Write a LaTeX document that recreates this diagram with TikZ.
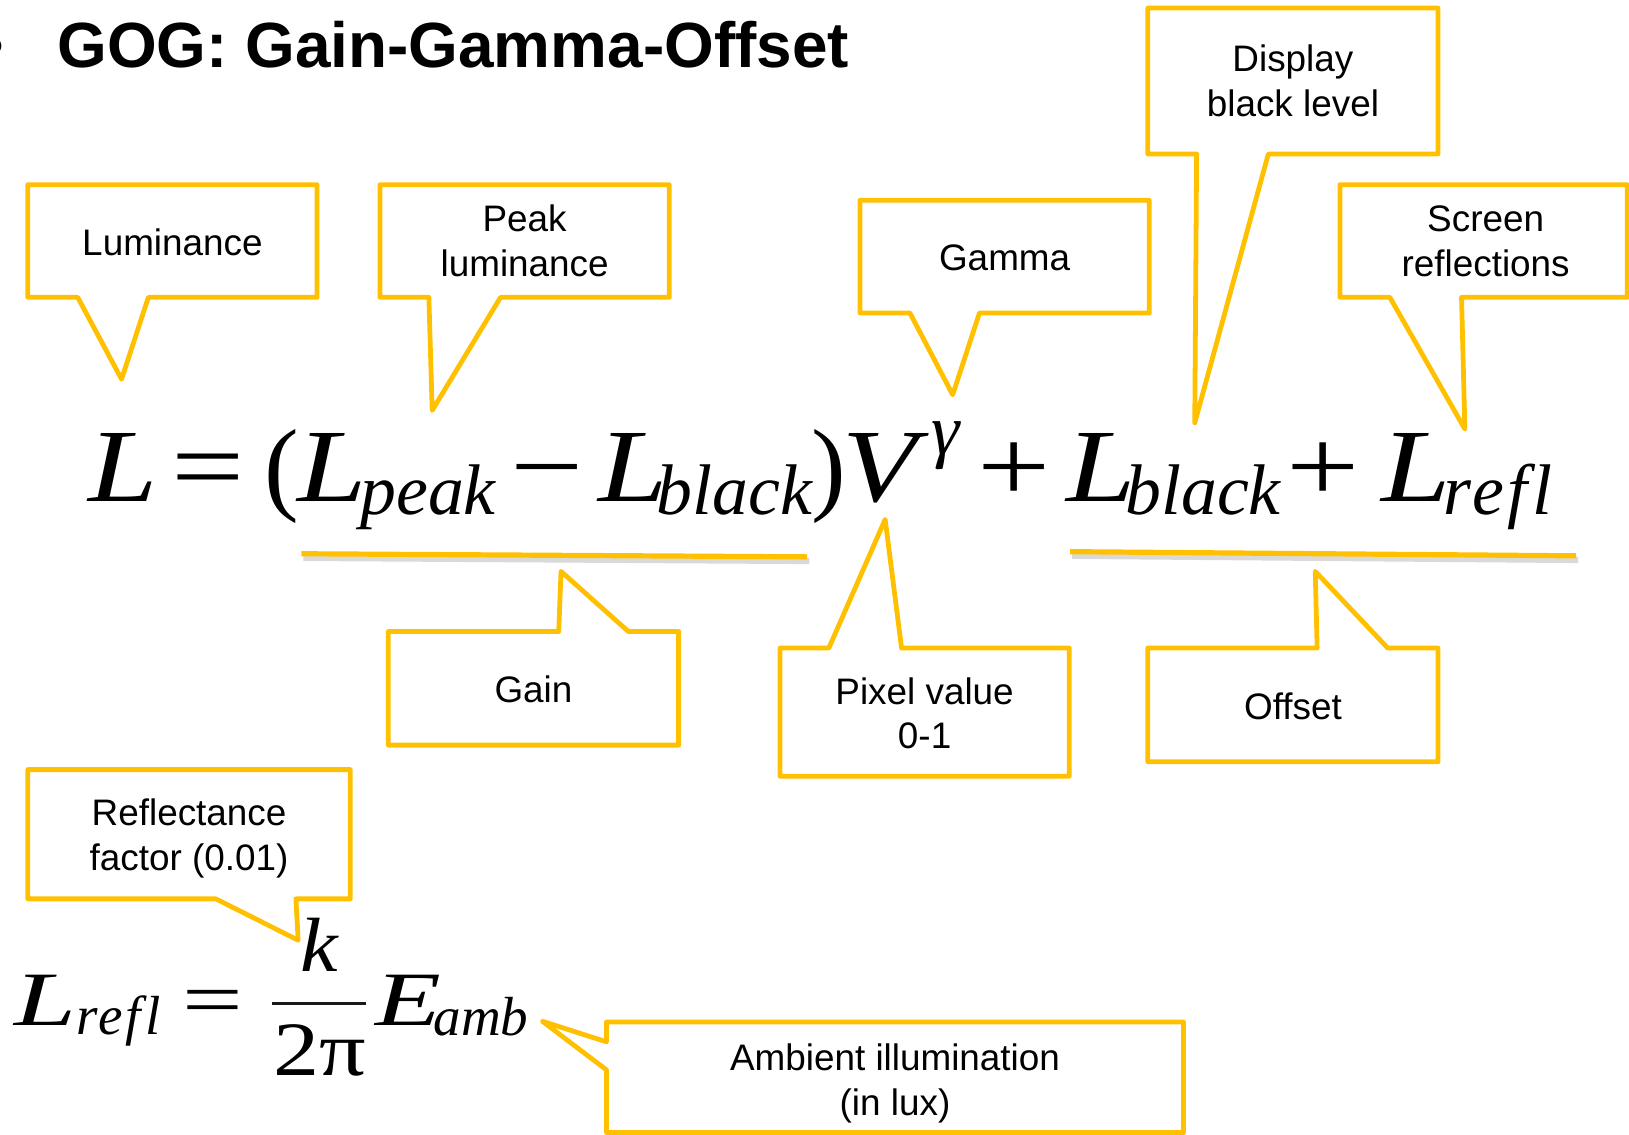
\documentclass[tikz,border=0pt]{standalone}
\usepackage{graphicx}
\usepackage{fontspec}
\setmainfont{Liberation Sans}
\newfontfamily\serifm{Liberation Serif}
\usetikzlibrary{calc}
\definecolor{gold}{HTML}{FFC000}
\tikzset{
  co/.style={draw=gold, line width=4.6pt, line join=round},
  frame/.style={rectangle, inner sep=0pt},
  cbox/.style={inner sep=0pt, align=center, font=\fontsize{35.5}{43}\selectfont},
  ttl/.style={inner sep=0pt, font=\bfseries\fontsize{61.5}{70}\selectfont},
  fm/.style={inner sep=0pt, anchor=base, font=\serifm\itshape\fontsize{100}{100}\selectfont},
  fo/.style={inner sep=0pt, anchor=base, font=\serifm\fontsize{100}{100}\selectfont},
  fs/.style={inner sep=0pt, anchor=base, font=\serifm\itshape\fontsize{69}{69}\selectfont},
  fmb/.style={inner sep=0pt, anchor=base, font=\serifm\itshape\fontsize{74}{74}\selectfont},
  fob/.style={inner sep=0pt, anchor=base, font=\serifm\fontsize{74}{74}\selectfont},
  fsb/.style={inner sep=0pt, anchor=base, font=\serifm\itshape\fontsize{53}{53}\selectfont},
  uline/.style={draw=gold, line width=5pt},
  ushadow/.style={draw=black, opacity=0.15, line width=6pt},
}
\newcommand\wideop[1]{\scalebox{1.25}[1]{#1}}
\newcommand\wider[2]{\scalebox{#1}[1]{#2}}
\begin{document}
\begin{tikzpicture}[x=1pt,y=-1pt]
\useasboundingbox (0,0) rectangle (1568,1092);

% title
\node[ttl, anchor=base] (bul) at (-7,65) {•};
\node[ttl, anchor=base west] (title) at (55,65) {GOG: Gain-Gamma-Offset};

% main formula
\node[fm] (L1) at (119,483) {\wider{1.2}{L}};
\node[fo] (eq1) at (200,483) {\wideop{=}};
\node[fo] (lp) at (271,483) {(};
\node[fm] (L2) at (320,483) {\wider{1.2}{L}};
\node[fs] (s1) at (412,495) {peak};
\node[fo] (mi) at (527,483) {\wideop{−}};
\node[fm] (L3) at (609,483) {\wider{1.2}{L}};
\node[fs] (s2) at (707,495) {black};
\node[fo] (rp) at (798,483) {)};
\node[fm] (V) at (847,483) {\wider{1.18}{V}};
\node[fs] (g) at (910,437) {γ};
\node[fo] (p1) at (976,483) {\wideop{+}};
\node[fm] (L4) at (1060,483) {\wider{1.2}{L}};
\node[fs] (s3) at (1158,495) {black};
\node[fo] (p2) at (1274,483) {\wideop{+}};
\node[fm] (L5) at (1363,483) {\wider{1.2}{L}};
\node[fs] (s4) at (1442,495) {r\kern1pt e\kern3pt f\kern5pt l};

% underlines
\coordinate (ga1) at (290,533); \coordinate (ga2) at (777,536);
\coordinate (of1) at (1030,531); \coordinate (of2) at (1517,535);
\draw[ushadow] ($(ga1)+(2,4)$) -- ($(ga2)+(2,4)$);
\draw[uline] (ga1) -- (ga2);
\draw[ushadow] ($(of1)+(2,4)$) -- ($(of2)+(2,4)$);
\draw[uline] (of1) -- (of2);

% bottom formula
\node[fmb] (L6) at (44,987) {\wider{1.45}{L}};
\node[fsb] (s5) at (114,996) {r\kern1pt e\kern2pt f\kern4pt l};
\node[fob] (eq2) at (205,987) {\wider{1.4}{=}};
\node[fmb] (k) at (307,935) {\wider{1.1}{k}};
\coordinate (fb1) at (262,966); \coordinate (fb2) at (352,966);
\draw[line width=3pt, black!90] (fb1) -- (fb2);
\node[fob] (twopi) at (308,1035) {\wider{1.2}{2π}};
\node[fmb] (E) at (393,987) {\wider{1.4}{E}};
\node[fsb] (s6) at (463,997) {amb};

% callout frames
\node[frame, minimum width=278pt, minimum height=108pt] (lum) at (166,232) {};
\node[frame, minimum width=278pt, minimum height=108pt] (peak) at (505,232) {};
\node[frame, minimum width=278pt, minimum height=108pt] (gam) at (967,247) {};
\node[frame, minimum width=279pt, minimum height=140pt] (disp) at (1244.5,78) {};
\node[frame, minimum width=276pt, minimum height=108pt] (scr) at (1428,232) {};
\node[frame, minimum width=279pt, minimum height=109pt] (gain) at (513.5,662.5) {};
\node[frame, minimum width=278pt, minimum height=123pt] (pix) at (890,685.5) {};
\node[frame, minimum width=279pt, minimum height=109pt] (off) at (1244.5,678.5) {};
\node[frame, minimum width=310pt, minimum height=124pt] (refl) at (182,803) {};
\node[frame, minimum width=555pt, minimum height=106pt] (amb) at (861.5,1037) {};

% callout texts
\node[cbox] (lumt) at ($(lum)+(0,1)$) {Luminance};
\node[cbox] (peakt) at (peak) {Peak\\luminance};
\node[cbox] (gamt) at ($(gam)+(0,1)$) {Gamma};
\node[cbox] (dispt) at (disp) {Display\\black level};
\node[cbox] (scrt) at ($(scr)+(2,0)$) {Screen\\reflections};
\node[cbox] (gaint) at ($(gain)+(0,1)$) {Gain};
\node[cbox] (pixt) at ($(pix)+(0,1)$) {Pixel value\\0-1};
\node[cbox] (offt) at ($(off)+(0,1)$) {Offset};
\node[cbox] (reflt) at ($(refl)+(0,4)$) {Reflectance\\factor (0.01)};
\node[cbox] (ambt) at ($(amb)+(0,6)$) {Ambient illumination\\(in lux)};

% pointer tips
\coordinate (lumtip) at (117,365);
\coordinate (peaktip) at (416,395);
\coordinate (gamtip) at (917,380);
\coordinate (disptip) at (1150,407);
\coordinate (scrtip) at (1410,413);
\coordinate (gaintip) at (540,550);
\coordinate (pixtip) at (852,500);
\coordinate (offtip) at (1266,550);
\coordinate (refltip) at (287,905);
\coordinate (ambtip) at (522,983);

% callout outlines (pointer below)
\foreach \n/\a/\b in {lum/48/116, peak/47/116, gam/48/115, disp/47/116, scr/48/117, refl/181/258}{
  \draw[co] (\n.north west) -- (\n.north east) -- (\n.south east)
    -- ($(\n.south west)+(\b,0)$) -- (\n tip) -- ($(\n.south west)+(\a,0)$)
    -- (\n.south west) -- cycle;
}
% pointer above
\foreach \n/\a/\b in {gain/164/231, pix/47/117, off/163/231}{
  \draw[co] (\n.south west) -- (\n.north west) -- ($(\n.north west)+(\a,0)$)
    -- (\n tip) -- ($(\n.north west)+(\b,0)$) -- (\n.north east)
    -- (\n.south east) -- cycle;
}
% pointer left
\draw[co] (amb.north west) -- (amb.north east) -- (amb.south east) -- (amb.south west)
  -- ($(amb.north west)+(0,46)$) -- (ambtip) -- ($(amb.north west)+(0,19)$) -- cycle;
\end{tikzpicture}
\end{document}
